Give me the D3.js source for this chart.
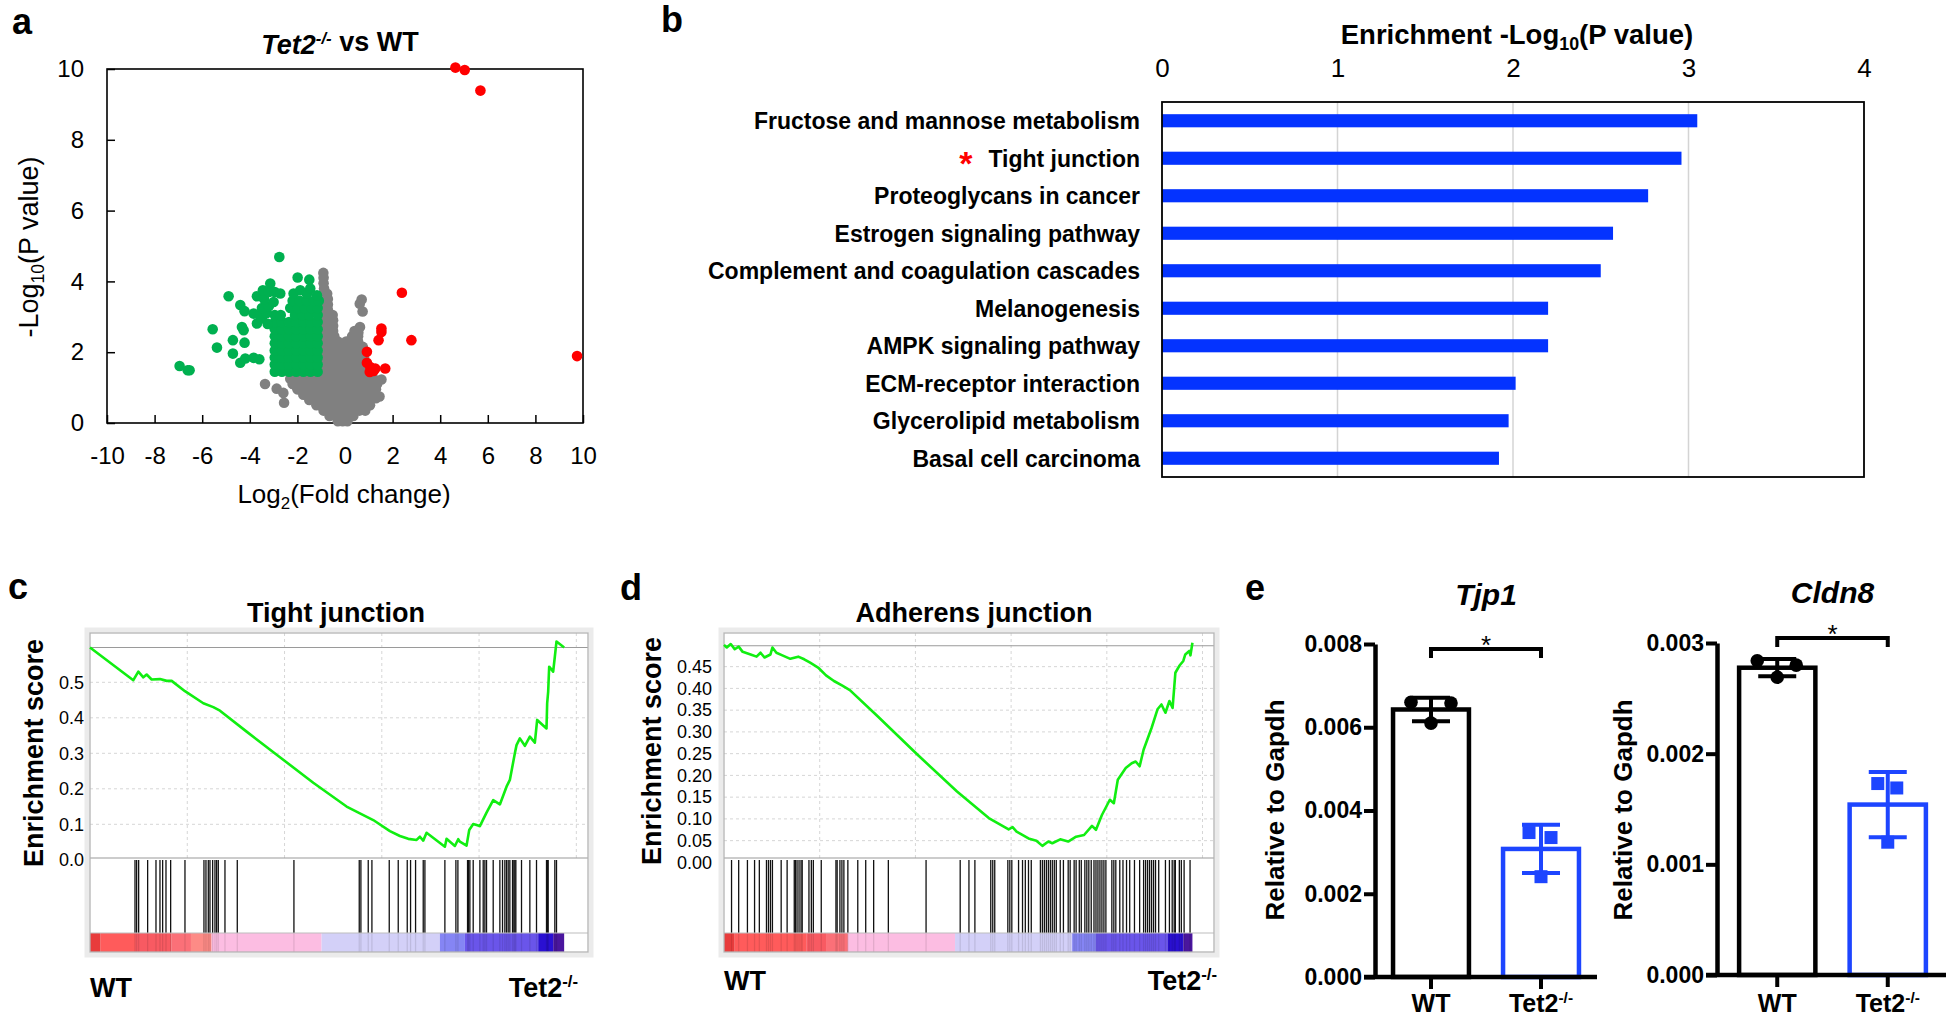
<!DOCTYPE html>
<html><head><meta charset="utf-8">
<script src="https://cdn.jsdelivr.net/npm/d3@7"></script>
<style>
body{margin:0;background:#fff;}
svg{display:block;font-family:"Liberation Sans",Arial,Helvetica,sans-serif;}
</style></head><body>
<svg id="fig" width="1946" height="1019"></svg>
<script>
// ---------------- DATA ----------------
// Panel a: volcano plot points [log2FC, -log10 P]
const volcanoGray = [
[-0.3,0.05],[-0.1,0.05],[0.1,0.05],
[-0.65,0.2],[-0.4,0.2],[-0.15,0.2],[0.1,0.2],[0.35,0.2],
[-0.9,0.35],[-0.65,0.35],[-0.4,0.35],[-0.15,0.35],[0.1,0.35],[0.35,0.35],[0.6,0.35],[0.85,0.35],
[-1.2,0.5],[-0.95,0.5],[-0.7,0.5],[-0.45,0.5],[-0.2,0.5],[0.05,0.5],[0.3,0.5],[0.55,0.5],[0.8,0.5],[1.05,0.5],
[-2.56,0.57],
[-1.5,0.65],[-1.25,0.65],[-1.0,0.65],[-0.75,0.65],[-0.5,0.65],[-0.25,0.65],[0,0.65],[0.25,0.65],[0.5,0.65],[0.75,0.65],[1.0,0.65],[1.3,0.7],
[-1.75,0.8],[-1.5,0.8],[-1.25,0.8],[-1.0,0.8],[-0.75,0.8],[-0.5,0.8],[-0.25,0.8],[0,0.8],[0.25,0.8],[0.5,0.8],[0.75,0.8],[1.0,0.8],[1.25,0.8],[1.45,0.75],
[-2.59,0.85],[-2.87,0.97],
[-2.0,0.95],[-1.75,0.95],[-1.5,0.95],[-1.25,0.95],[-1.0,0.95],[-0.75,0.95],[-0.5,0.95],[-0.25,0.95],[0,0.95],[0.25,0.95],[0.5,0.95],[0.75,0.95],[1.0,0.95],[1.3,0.95],
[-3.36,1.1],
[-2.2,1.1],[-1.95,1.1],[-1.7,1.1],[-1.45,1.1],[-1.2,1.1],[-0.95,1.1],[-0.7,1.1],[-0.45,1.1],[-0.2,1.1],[0.05,1.1],[0.3,1.1],[0.55,1.1],[0.8,1.1],[1.05,1.1],[1.35,1.1],
[-2.3,1.25],[-2.05,1.25],[-1.8,1.25],[-1.55,1.25],[-1.3,1.25],[-1.05,1.25],[-0.8,1.25],[-0.55,1.25],[-0.3,1.25],[-0.05,1.25],[0.2,1.25],[0.45,1.25],[0.7,1.25],[0.95,1.25],[1.2,1.25],[1.53,1.23],
[-0.95,1.4],[-0.7,1.4],[-0.45,1.4],[-0.2,1.4],[0.05,1.4],[0.3,1.4],[0.55,1.4],[0.8,1.4],[1.05,1.4],
[-0.9,1.55],[-0.65,1.55],[-0.4,1.55],[-0.15,1.55],[0.1,1.55],[0.35,1.55],[0.6,1.55],[0.85,1.55],
[-0.9,1.7],[-0.65,1.7],[-0.4,1.7],[-0.15,1.7],[0.05,1.7],[0.3,1.7],[0.55,1.7],[0.8,1.7],
[-0.9,1.85],[-0.65,1.85],[-0.4,1.85],[-0.2,1.85],[0.05,1.85],[0.3,1.85],[0.55,1.85],[0.8,1.85],
[-0.9,2.0],[-0.65,2.0],[-0.4,2.0],[-0.25,2.0],[0.05,2.0],[0.3,2.0],[0.55,2.0],[0.78,2.0],
[-0.9,2.15],[-0.65,2.15],[-0.4,2.15],[-0.25,2.15],[0.05,2.15],[0.3,2.15],[0.55,2.15],[0.75,2.15],
[-0.9,2.3],[-0.65,2.3],[-0.45,2.3],[-0.3,2.3],[0.05,2.3],[0.3,2.3],[0.55,2.3],
[-0.9,2.45],[-0.65,2.45],[-0.45,2.45],[0.3,2.45],[0.55,2.45],
[-0.9,2.6],[-0.65,2.6],[-0.5,2.6],[0.4,2.6],[0.56,2.55],
[-0.9,2.75],[-0.65,2.75],[-0.5,2.75],[0.63,2.71],
[-0.9,2.9],[-0.7,2.9],[-0.5,2.9],
[-0.9,3.05],[-0.7,3.05],[-0.52,3.05],
[0.74,3.15],
[-0.9,3.2],[-0.72,3.2],
[-0.9,3.35],[-0.72,3.35],[0.62,3.37],
[-0.88,3.5],[-0.72,3.5],[0.7,3.49],
[-0.85,3.65],[-0.75,3.65],
[-0.88,3.8],[-0.9,3.95],[-0.9,4.1],[-0.91,4.24]
];
const volcanoGreen = [
[-2.76,4.69],[-1.99,4.11],[-1.50,4.05],[-4.89,3.58],[-4.40,3.33],[-4.22,3.16],[-5.56,2.65],[-4.33,2.71],[-4.26,2.62],
[-5.38,2.13],[-4.71,2.34],[-4.22,2.27],[-4.71,1.96],[-4.40,1.70],[-4.19,1.82],[-3.84,1.84],[-3.60,1.80],
[-6.95,1.61],[-6.61,1.49],[-6.53,1.49],
[-2.95,1.45],[-2.65,1.45],[-2.35,1.45],[-2.05,1.45],[-1.75,1.45],[-1.45,1.45],[-1.15,1.45],
[-2.95,1.65],[-2.65,1.65],[-2.35,1.65],[-2.05,1.65],[-1.75,1.65],[-1.45,1.65],[-1.15,1.65],
[-2.95,1.85],[-2.65,1.85],[-2.35,1.85],[-2.05,1.85],[-1.75,1.85],[-1.45,1.85],[-1.15,1.85],
[-2.95,2.05],[-2.65,2.05],[-2.35,2.05],[-2.05,2.05],[-1.75,2.05],[-1.45,2.05],[-1.15,2.05],
[-2.95,2.25],[-2.65,2.25],[-2.35,2.25],[-2.05,2.25],[-1.75,2.25],[-1.45,2.25],[-1.15,2.25],
[-2.95,2.45],[-2.65,2.45],[-2.35,2.45],[-2.05,2.45],[-1.75,2.45],[-1.45,2.45],[-1.15,2.45],
[-2.95,2.65],[-2.65,2.65],[-2.35,2.65],[-2.05,2.65],[-1.75,2.65],[-1.45,2.65],[-1.15,2.65],
[-2.95,2.85],[-2.65,2.85],[-2.35,2.85],[-2.05,2.85],[-1.75,2.85],[-1.45,2.85],[-1.15,2.85],
[-2.95,3.05],[-2.7,3.05],[-2.1,3.05],[-1.8,3.05],[-1.5,3.05],[-1.15,3.05],
[-3.84,3.09],[-3.70,2.81],[-3.5,2.95],[-3.25,2.8],[-3.6,3.05],[-3.3,3.1],
[-3.49,3.25],[-3.2,3.3],[-3.0,3.42],[-3.70,3.58],[-3.4,3.5],[-3.45,3.75],[-3.14,3.94],[-3.2,3.7],[-2.95,3.7],[-2.72,3.66],
[-2.3,3.25],[-2.0,3.25],[-1.7,3.25],[-1.4,3.25],[-1.15,3.25],
[-2.2,3.45],[-1.9,3.45],[-1.6,3.45],[-1.3,3.45],[-1.1,3.45],
[-2.16,3.66],[-1.88,3.75],[-1.6,3.65],[-1.46,3.80],[-1.18,3.61]
];
const volcanoRed = [
[4.64,10.04],[5.03,9.97],[5.69,9.39],[2.39,3.68],[2.79,2.34],[1.53,2.67],[1.53,2.57],[1.41,2.34],
[0.92,2.01],[0.92,1.70],[1.06,1.58],[1.2,1.47],[1.04,1.44],[1.69,1.54],[1.27,1.54],[9.75,1.89]
];
const volcanoXTicks = [-10,-8,-6,-4,-2,0,2,4,6,8,10];
const volcanoYTicks = [0,2,4,6,8,10];

// Panel b: KEGG enrichment
const keggTerms = ["Fructose and mannose metabolism","Tight junction","Proteoglycans in cancer","Estrogen signaling pathway",
 "Complement and coagulation cascades","Melanogenesis","AMPK signaling pathway","ECM-receptor interaction",
 "Glycerolipid metabolism","Basal cell carcinoma"];
const keggValues = [3.05,2.96,2.77,2.57,2.50,2.20,2.20,2.015,1.975,1.92];
const keggTicks = [0,1,2,3,4];
const keggStarred = ["Tight junction"];

// Panel c: GSEA Tight junction  [rank, running ES]
const tightCurve = [[0,0.598],[2227,0.506],[2484,0.530],[2741,0.514],[2912,0.522],[3169,0.508],[3597,0.509],[3940,0.504],
 [4197,0.504],[4882,0.475],[5825,0.441],[6338,0.430],[6681,0.420],[8051,0.361],[9764,0.289],[11477,0.217],[13190,0.150],
 [13875,0.131],[14560,0.112],[15417,0.081],[15931,0.067],[16359,0.059],[16788,0.056],[16959,0.065],[17130,0.054],
 [17301,0.076],[18243,0.037],[18329,0.059],[18757,0.039],[18928,0.058],[19014,0.051],[19357,0.040],[19494,0.084],
 [19699,0.101],[20042,0.095],[20384,0.133],[20727,0.168],[21069,0.156],[21412,0.206],[21583,0.225],[21840,0.300],
 [21926,0.323],[22097,0.342],[22354,0.321],[22611,0.347],[22868,0.330],[22987,0.394],[23467,0.370],[23501,0.441],
 [23553,0.474],[23604,0.544],[23809,0.530],[23895,0.572],[23981,0.615],[24374,0.598]];
const tightHits = [2313,2398,2501,2963,3392,3597,3734,3906,4146,4882,5858,5961,6081,6167,6304,6424,6510,6595,6938,7571,
 10483,13841,13926,14303,14492,15383,15845,16308,16479,16736,17130,17216,18243,18809,18912,19408,19460,19528,19699,
 20042,20213,20299,20384,20727,21069,21206,21326,21412,21497,21583,21720,21789,21840,21891,22182,22611,22953,23467,
 23518,23553,23895,23981];
const tightBarBreaks = [0,548,2313,4197,5190,6252,11905,17986,19271,23039,23810,24374];
const tightMaxES = 0.598;

// Panel d: GSEA Adherens junction
const adherensCurve = [[0,0.500],[145,0.494],[353,0.502],[560,0.490],[767,0.496],[975,0.484],[1390,0.478],[1701,0.473],
 [1908,0.482],[2115,0.471],[2427,0.478],[2530,0.494],[2738,0.482],[3049,0.476],[3464,0.468],[3878,0.473],[4190,0.467],
 [4501,0.459],[4915,0.448],[5330,0.430],[5745,0.417],[6160,0.407],[6575,0.396],[8026,0.336],[10100,0.248],[12174,0.163],
 [13834,0.102],[14871,0.076],[15078,0.081],[15285,0.071],[15908,0.055],[16322,0.050],[16634,0.038],[16945,0.048],
 [17152,0.044],[17567,0.053],[17982,0.048],[18396,0.059],[18811,0.063],[19226,0.084],[19434,0.075],[19744,0.109],
 [20159,0.144],[20367,0.136],[20574,0.190],[20989,0.217],[21300,0.228],[21507,0.232],[21715,0.221],[21922,0.259],
 [22337,0.309],[22648,0.352],[22855,0.363],[23063,0.344],[23271,0.371],[23437,0.355],[23582,0.436],[23789,0.452],
 [23996,0.463],[24100,0.478],[24308,0.486],[24370,0.476],[24473,0.505]];
const adherensHits = [394,767,1224,1597,1846,2219,2323,2427,2530,2987,3298,3671,3733,3816,3920,4024,4086,4438,4563,4667,
 5081,5849,5911,6056,6160,6263,6471,6989,7404,7819,8586,10557,12340,12797,13108,13937,14041,14145,14829,14933,15037,
 15389,15596,15742,15908,16053,16530,16634,16737,16841,16945,17049,17152,17256,17360,17567,17733,17982,18085,18293,
 18396,18562,18666,18853,18956,19060,19185,19330,19434,19537,19641,19744,19848,19952,20263,20367,20470,20678,20844,
 21030,21196,21445,21715,21922,22026,22130,22234,22337,22441,22545,22711,23063,23271,23416,23520,23582,23789,23893,
 24038,24349];
const adherensBarBreaks = [0,560,4294,5330,6471,6471,12071,18189,19434,23167,23996,24473];
const adherensMaxES = 0.498;

const rankBarColors = ["#e83c3c","#ff5b5b","#f85a62","#fb7078","#fd8b86","#fcbde2","#d3d0f8","#8585f4","#6a55ea","#2a10d2","#4a169e"];
const esTicksTight = [0,0.1,0.2,0.3,0.4,0.5];
const esTicksAdherens = [0,0.05,0.10,0.15,0.20,0.25,0.30,0.35,0.40,0.45];

// Panel e: qPCR (relative to Gapdh), 3 replicates per group
const qpcrGroups = ["WT","Tet2-/-"];
const tjp1WT = [0.00660,0.00658,0.00610];
const tjp1KO = [0.00347,0.00335,0.00241];
const cldn8WT = [0.00284,0.00280,0.00269];
const cldn8KO = [0.00173,0.00169,0.00120];
const tjp1Ticks = [0,0.002,0.004,0.006,0.008];
const cldn8Ticks = [0,0.001,0.002,0.003];

// ---------------- DRAW ----------------
const svg = d3.select("#fig");
const BLUE_E = "#1d45ff";

function letter(t,x,y){
  svg.append("text").attr("x",x).attr("y",y).attr("font-size",36).attr("font-weight","bold").text(t);
}
function supLabel(sel, base, sup, italicBase){
  const b = sel.append("tspan").text(base);
  if(italicBase) b.attr("font-style","italic");
  sel.append("tspan").attr("font-size","0.62em").attr("dy","-0.6em").text(sup);
}

// ===== Panel a =====
letter("a",12,34);
{
  const g = svg.append("g");
  const x = d3.scaleLinear().domain([-10,10]).range([107,583]);
  const y = d3.scaleLinear().domain([0,10]).range([423,69]);
  const xa = g.append("g").attr("transform","translate(0,423)")
    .call(d3.axisBottom(x).tickValues(volcanoXTicks).tickSize(-8).tickSizeOuter(0).tickPadding(24).tickFormat(d=>String(d)));
  const ya = g.append("g").attr("transform","translate(107,0)")
    .call(d3.axisLeft(y).tickValues(volcanoYTicks).tickSize(-8).tickSizeOuter(0).tickPadding(23).tickFormat(d=>String(d)));
  [xa,ya].forEach(a=>{
    a.selectAll("text").attr("font-size",24).attr("fill","#000").attr("font-family",null);
    a.selectAll("line").attr("stroke","#000").attr("stroke-width",1.5);
    a.select(".domain").remove();
  });
  g.append("rect").attr("x",107).attr("y",69).attr("width",476).attr("height",354)
    .attr("fill","none").attr("stroke","#000").attr("stroke-width",1.6);
  const dots = (data,col)=> g.append("g").selectAll("circle").data(data).join("circle")
    .attr("cx",d=>x(d[0])).attr("cy",d=>y(d[1])).attr("r",5.3).attr("fill",col);
  dots(volcanoGray,"#808080");
  dots(volcanoGreen,"#00b050");
  dots(volcanoRed,"#ff0000");
  const t = g.append("text").attr("x",340).attr("y",54).attr("text-anchor","middle")
    .attr("font-size",27).attr("font-weight","bold");
  t.append("tspan").attr("font-style","italic").text("Tet2");
  t.append("tspan").attr("font-style","italic").attr("font-size","0.62em").attr("dy","-0.6em").text("-/-");
  t.append("tspan").attr("dy","6.7").text(" vs WT");
  const xl = g.append("text").attr("x",344).attr("y",503).attr("text-anchor","middle").attr("font-size",26);
  xl.append("tspan").text("Log");
  xl.append("tspan").attr("font-size","0.65em").attr("dy","6").text("2");
  xl.append("tspan").attr("dy","-6").text("(Fold change)");
  const yl = g.append("text").attr("transform","translate(38,247) rotate(-90)").attr("text-anchor","middle").attr("font-size",27);
  yl.append("tspan").text("-Log");
  yl.append("tspan").attr("font-size","0.65em").attr("dy","6").text("10");
  yl.append("tspan").attr("dy","-6").text("(P value)");
}

// ===== Panel b =====
letter("b",661,32);
{
  const g = svg.append("g");
  const x = d3.scaleLinear().domain([0,4]).range([1162,1864]);
  const y = d3.scaleBand().domain(keggTerms).range([102,477]).paddingInner(0.65).paddingOuter(0.325);
  g.append("g").selectAll("line").data([1,2,3]).join("line")
    .attr("x1",d=>x(d)).attr("x2",d=>x(d)).attr("y1",102).attr("y2",477)
    .attr("stroke","#d4d4d4").attr("stroke-width",1.5);
  g.append("g").selectAll("rect").data(keggTerms).join("rect")
    .attr("x",x(0)).attr("y",d=>y(d)).attr("height",y.bandwidth())
    .attr("width",(d,i)=>x(keggValues[i])-x(0)).attr("fill","#0433ff");
  g.append("rect").attr("x",1162).attr("y",102).attr("width",702).attr("height",375)
    .attr("fill","none").attr("stroke","#000").attr("stroke-width",1.8);
  const ax = g.append("g").attr("transform","translate(0,102)")
    .call(d3.axisTop(x).tickValues(keggTicks).tickSize(0).tickPadding(25).tickFormat(d=>String(d)));
  ax.select(".domain").remove();
  ax.selectAll("text").attr("font-size",26).attr("fill","#000").attr("font-family",null);
  const labs = g.append("g").selectAll("text").data(keggTerms).join("text")
    .attr("x",1140).attr("y",d=>y(d)+y.bandwidth()/2).attr("dy","0.36em")
    .attr("text-anchor","end").attr("font-size",23).attr("font-weight","bold").text(d=>d);
  labs.filter(d=>keggStarred.includes(d)).each(function(d){
    const w = this.getComputedTextLength();
    g.append("text").attr("x",1140-w-16).attr("y",y(d)+y.bandwidth()/2+17)
      .attr("text-anchor","end").attr("font-size",34).attr("font-weight","bold").attr("fill","#ff0000").text("*");
  });
  const t = g.append("text").attr("x",1517).attr("y",44).attr("text-anchor","middle")
    .attr("font-size",27.5).attr("font-weight","bold");
  t.append("tspan").text("Enrichment -Log");
  t.append("tspan").attr("font-size","0.65em").attr("dy","6").text("10");
  t.append("tspan").attr("dy","-6").text("(P value)");
}

// ===== Panels c, d: GSEA =====
function gsea(cfg){
  const g = svg.append("g");
  const top = 633, sep = 858, barTop = 933, bottom = 952;
  const x = d3.scaleLinear().domain([0,25600]).range([cfg.left,cfg.right]);
  const y = d3.scaleLinear().domain([0,1]).range([cfg.y0, cfg.y0 - cfg.pxPerUnit]);
  // outer soft border
  g.append("rect").attr("x",cfg.left-3).attr("y",top-3).attr("width",cfg.right-cfg.left+6).attr("height",bottom-top+6)
    .attr("fill","none").attr("stroke","#ebebeb").attr("stroke-width",5);
  // grid
  g.append("g").selectAll("line").data(cfg.ticks.filter(d=>d>0)).join("line")
    .attr("x1",cfg.left).attr("x2",cfg.right).attr("y1",d=>y(d)).attr("y2",d=>y(d))
    .attr("stroke","#d6d6d6").attr("stroke-dasharray","3,3");
  g.append("g").selectAll("line").data([5000,10000,15000,20000,25000]).join("line")
    .attr("x1",d=>x(d)).attr("x2",d=>x(d)).attr("y1",top).attr("y2",sep)
    .attr("stroke","#d6d6d6").attr("stroke-dasharray","3,3");
  // ranked list colour bar
  g.append("g").selectAll("rect").data(rankBarColors).join("rect")
    .attr("x",(d,i)=>x(cfg.breaks[i])).attr("width",(d,i)=>Math.max(0,x(cfg.breaks[i+1])-x(cfg.breaks[i])))
    .attr("y",barTop).attr("height",bottom-barTop).attr("fill",d=>d);
  // hits
  g.append("g").selectAll("line").data(cfg.hits).join("line")
    .attr("x1",d=>x(d)).attr("x2",d=>x(d)).attr("y1",sep+2).attr("y2",barTop)
    .attr("stroke","#111").attr("stroke-width",1.3);
  g.append("g").selectAll("line").data(cfg.hits).join("line")
    .attr("x1",d=>x(d)).attr("x2",d=>x(d)).attr("y1",barTop).attr("y2",bottom)
    .attr("stroke","rgba(0,0,0,0.10)").attr("stroke-width",1.3);
  // separators
  g.append("line").attr("x1",cfg.left).attr("x2",cfg.right).attr("y1",sep).attr("y2",sep).attr("stroke","#9a9a9a").attr("stroke-width",1.2);
  g.append("line").attr("x1",cfg.left).attr("x2",cfg.right).attr("y1",barTop).attr("y2",barTop).attr("stroke","#bdbdbd").attr("stroke-width",1.2);
  g.append("line").attr("x1",cfg.left).attr("x2",cfg.right).attr("y1",y(cfg.maxES)).attr("y2",y(cfg.maxES)).attr("stroke","#9a9a9a").attr("stroke-width",1.2);
  // frame
  g.append("rect").attr("x",cfg.left).attr("y",top).attr("width",cfg.right-cfg.left).attr("height",bottom-top)
    .attr("fill","none").attr("stroke","#b4b4b4").attr("stroke-width",1.3);
  // ES curve
  g.append("path").datum(cfg.curve)
    .attr("d",d3.line().x(d=>x(d[0])).y(d=>y(d[1])))
    .attr("fill","none").attr("stroke","#11ee11").attr("stroke-width",2.6).attr("stroke-linejoin","round");
  // y axis labels
  const ya = g.append("g").attr("transform",`translate(${cfg.left},0)`)
    .call(d3.axisLeft(y).tickValues(cfg.ticks).tickSize(0).tickPadding(cfg.pad).tickFormat(d3.format(cfg.fmt)));
  ya.select(".domain").remove();
  ya.selectAll("text").attr("font-size",18).attr("fill","#000").attr("font-family",null);
  // title and labels
  g.append("text").attr("x",cfg.titleX).attr("y",622).attr("text-anchor","middle")
    .attr("font-size",27).attr("font-weight","bold").text(cfg.title);
  g.append("text").attr("transform",`translate(${cfg.ylabX},${cfg.ylabY}) rotate(-90)`).attr("text-anchor","middle")
    .attr("dy","0.36em").attr("font-size",27).attr("font-weight","bold").text("Enrichment score");
  g.append("text").attr("x",cfg.left).attr("y",cfg.lblY).attr("font-size",27).attr("font-weight","bold").text("WT");
  const k = g.append("text").attr("x",cfg.koX).attr("y",cfg.lblY).attr("text-anchor","end").attr("font-size",27).attr("font-weight","bold");
  supLabel(k,"Tet2","-/-",false);
}
letter("c",8,599);
gsea({left:90,right:588,y0:859.8,pxPerUnit:355,ticks:esTicksTight,fmt:".1f",pad:6,maxES:tightMaxES,
  curve:tightCurve,hits:tightHits,breaks:tightBarBreaks,title:"Tight junction",titleX:336,ylabX:33,ylabY:753,lblY:997,koX:578});
letter("d",620,600);
gsea({left:724,right:1214,y0:862.4,pxPerUnit:435,ticks:esTicksAdherens,fmt:".2f",pad:12,maxES:adherensMaxES,
  curve:adherensCurve,hits:adherensHits,breaks:adherensBarBreaks,title:"Adherens junction",titleX:974,ylabX:651,ylabY:751,lblY:990,koX:1217});

// ===== Panel e: qPCR bars =====
function qpcr(cfg){
  const g = svg.append("g");
  const y = d3.scaleLinear().domain([0,cfg.ymax]).range([cfg.y0,cfg.y1]);
  const x = d3.scaleBand().domain(qpcrGroups).range([cfg.ax,cfg.ax+cfg.span]).paddingInner(0.31).paddingOuter(cfg.po);
  const sets = [cfg.wt,cfg.ko];
  const cols = ["#000",BLUE_E];
  const jit = cfg.jitter;
  qpcrGroups.forEach((grp,i)=>{
    const vals = sets[i], m = d3.mean(vals), sd = d3.deviation(vals);
    const cx = x(grp)+x.bandwidth()/2;
    g.append("rect").attr("x",x(grp)).attr("y",y(m)).attr("width",x.bandwidth()).attr("height",cfg.y0-y(m))
      .attr("fill","#fff").attr("stroke",cols[i]).attr("stroke-width",4.5);
    if(i===0){
      g.append("g").selectAll("circle").data(vals).join("circle")
        .attr("cx",(d,j)=>cx+jit[i][j]).attr("cy",d=>y(d)).attr("r",6.8).attr("fill","#000");
    } else {
      g.append("g").selectAll("rect").data(vals).join("rect")
        .attr("x",(d,j)=>cx+jit[i][j]-6.5).attr("y",d=>y(d)-6.5).attr("width",13).attr("height",13).attr("fill",BLUE_E);
    }
    g.append("path").attr("d",`M${cx},${y(m-sd)}V${y(m+sd)}M${cx-19},${y(m+sd)}H${cx+19}M${cx-19},${y(m-sd)}H${cx+19}`)
      .attr("stroke",cols[i]).attr("stroke-width",4).attr("fill","none");
  });
  // axes
  const ya = g.append("g").attr("transform",`translate(${cfg.ax},0)`)
    .call(d3.axisLeft(y).tickValues(cfg.ticks).tickSize(11).tickSizeOuter(0).tickPadding(2).tickFormat(d3.format(".3f")));
  ya.select(".domain").attr("stroke-width",4.5);
  ya.selectAll("line").attr("stroke-width",4);
  ya.selectAll("text").attr("font-size",23).attr("font-weight","bold").attr("fill","#000").attr("font-family",null);
  g.append("line").attr("x1",cfg.ax-11).attr("x2",cfg.ax+cfg.span).attr("y1",cfg.y0).attr("y2",cfg.y0)
    .attr("stroke","#000").attr("stroke-width",4.5);
  const xa = g.append("g").attr("transform",`translate(0,${cfg.y0})`)
    .call(d3.axisBottom(x).tickSize(12).tickSizeOuter(0).tickPadding(10).tickFormat(()=>""));
  xa.select(".domain").remove();
  xa.selectAll("line").attr("stroke-width",4);
  qpcrGroups.forEach(grp=>{
    const tx = g.append("text").attr("x",x(grp)+x.bandwidth()/2).attr("y",1012).attr("text-anchor","middle")
      .attr("font-size",25).attr("font-weight","bold");
    if(grp==="WT") tx.text("WT"); else supLabel(tx,"Tet2","-/-",false);
  });
  // significance bracket
  const c1 = x("WT")+x.bandwidth()/2, c2 = x("Tet2-/-")+x.bandwidth()/2;
  g.append("path").attr("d",`M${c1},${cfg.brY+9}V${cfg.brY}H${c2}V${cfg.brY+9}`)
    .attr("fill","none").attr("stroke","#000").attr("stroke-width",4);
  g.append("text").attr("x",(c1+c2)/2).attr("y",cfg.brY+5).attr("text-anchor","middle").attr("font-size",26).text("*");
  // titles
  g.append("text").attr("x",(c1+c2)/2).attr("y",cfg.titleY).attr("text-anchor","middle")
    .attr("font-size",30).attr("font-weight","bold").attr("font-style","italic").text(cfg.title);
  g.append("text").attr("transform",`translate(${cfg.ylabX},810) rotate(-90)`).attr("text-anchor","middle")
    .attr("dy","0.36em").attr("font-size",26).attr("font-weight","bold").text("Relative to Gapdh");
}
letter("e",1245,600);
qpcr({ax:1375,span:222,po:0.164,y0:977,y1:644,ymax:0.008,ticks:tjp1Ticks,wt:tjp1WT,ko:tjp1KO,
  jitter:[[-20,20,0],[-12,10,0]],brY:649,titleY:605,title:"Tjp1",ylabX:1275});
qpcr({ax:1717,span:231,po:0.2,y0:975,y1:643,ymax:0.003,ticks:cldn8Ticks,wt:cldn8WT,ko:cldn8KO,
  jitter:[[-20,19,0],[-10,9,0]],brY:638,titleY:603,title:"Cldn8",ylabX:1623});
</script>
</body></html>
